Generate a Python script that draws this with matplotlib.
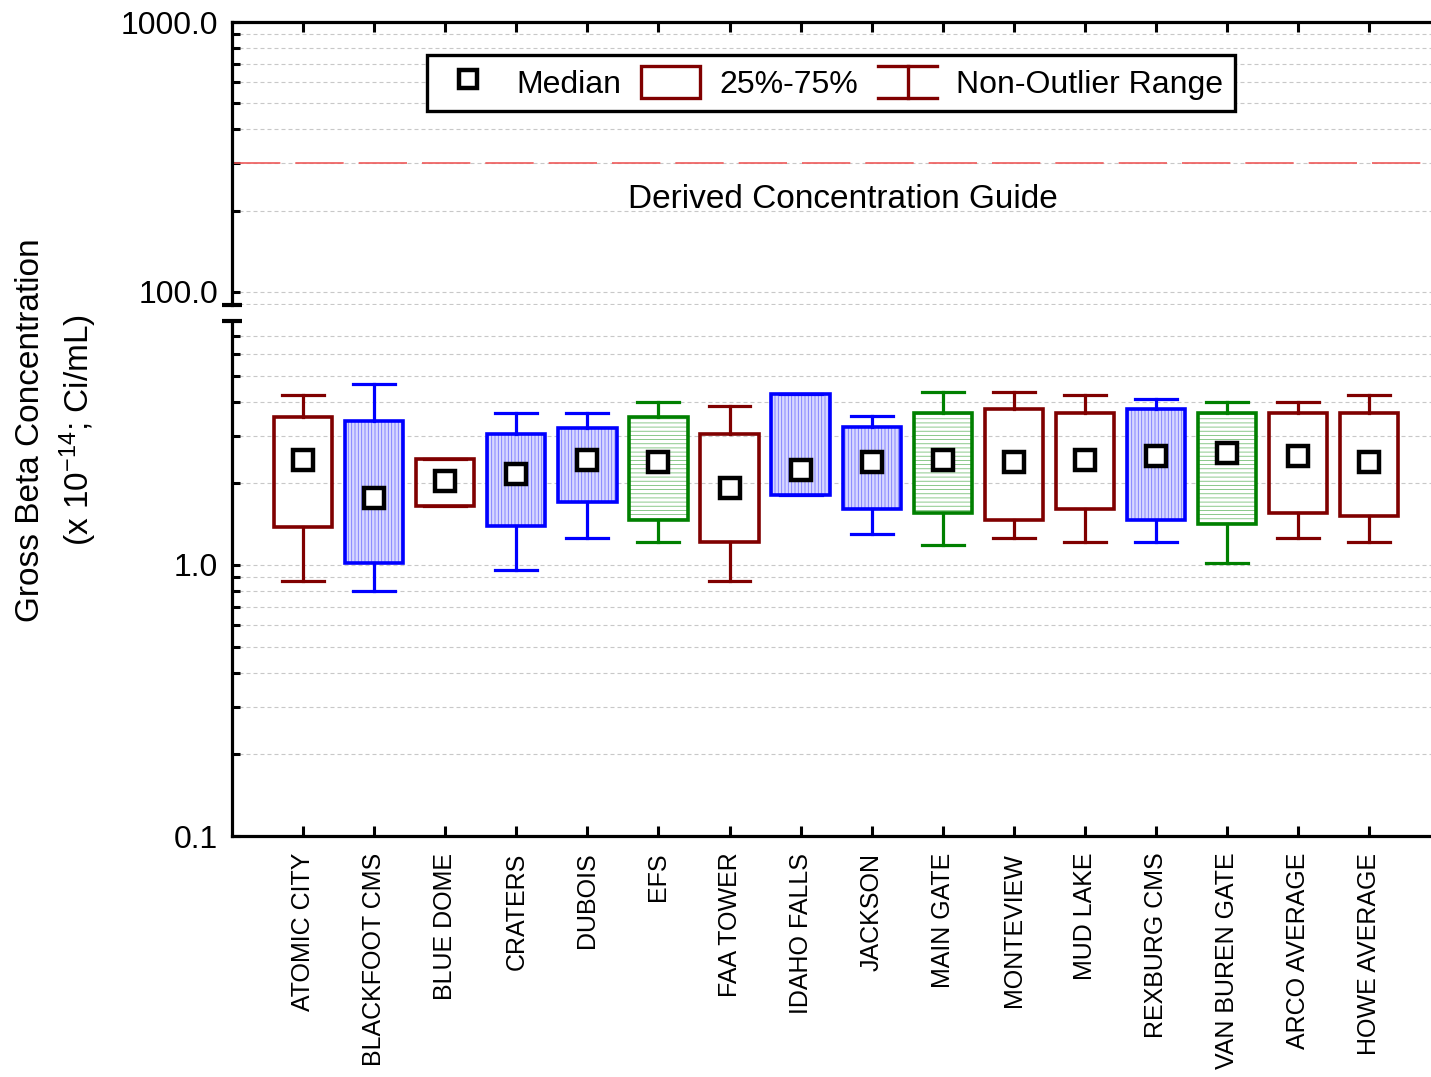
import matplotlib.pyplot as plt
import matplotlib.ticker as ticker
from matplotlib.lines import Line2D
from matplotlib.patches import Patch, Rectangle
from matplotlib.legend_handler import HandlerBase

plt.rcParams["font.family"] = ["Liberation Sans", "DejaVu Sans"]
plt.rcParams["mathtext.fontset"] = "custom"
plt.rcParams["mathtext.rm"] = "Liberation Sans"
plt.rcParams["mathtext.it"] = "Liberation Sans:italic"
plt.rcParams["hatch.linewidth"] = 0.6

stations = [
    "ATOMIC CITY", "BLACKFOOT CMS", "BLUE DOME", "CRATERS", "DUBOIS", "EFS",
    "FAA TOWER", "IDAHO FALLS", "JACKSON", "MAIN GATE", "MONTEVIEW",
    "MUD LAKE", "REXBURG CMS", "VAN BUREN GATE", "ARCO AVERAGE", "HOWE AVERAGE",
]
whisker_low = [0.875, 0.80, 1.65, 0.958, 1.26, 1.22, 0.875, 1.81,
               1.30, 1.19, 1.26, 1.22, 1.22, 1.02, 1.26, 1.22]
q1 = [1.38, 1.02, 1.65, 1.39, 1.71, 1.47, 1.22, 1.81,
      1.61, 1.55, 1.47, 1.61, 1.47, 1.42, 1.55, 1.51]
medians = [2.45, 1.76, 2.05, 2.17, 2.45, 2.39, 1.93, 2.25,
           2.39, 2.45, 2.39, 2.45, 2.52, 2.60, 2.52, 2.39]
q3 = [3.53, 3.41, 2.46, 3.04, 3.21, 3.53, 3.04, 4.27,
      3.22, 3.65, 3.75, 3.65, 3.75, 3.65, 3.65, 3.65]
whisker_high = [4.24, 4.64, 2.46, 3.65, 3.65, 3.98, 3.87, 4.27,
                3.54, 4.36, 4.36, 4.24, 4.11, 3.98, 3.98, 4.24]
box_type = ["plain", "blue", "plain", "blue", "blue", "green", "plain", "blue",
            "blue", "green", "plain", "plain", "blue", "green", "plain", "plain"]
dcg = 300

edge_colors = {"plain": "#800000", "blue": "#0000ff", "green": "#008000"}
RED = "#800000"


class WhiskerHandler(HandlerBase):

    def create_artists(self, legend, orig_handle, xdescent, ydescent,
                       width, height, fontsize, trans):
        x0 = -xdescent
        x1 = -xdescent + width
        y0 = -ydescent
        y1 = -ydescent + height
        xm = (x0 + x1) / 2
        lines = [
            Line2D([x0, x1], [y0, y0]),
            Line2D([x0, x1], [y1, y1]),
            Line2D([xm, xm], [y0, y1]),
        ]
        for ln in lines:
            ln.set_color(orig_handle.get_color())
            ln.set_linewidth(2.4)
            ln.set_transform(trans)
        return lines


fig = plt.figure(figsize=(14.31, 10.77), dpi=100)

left = 232 / 1431
width = 1 - left
ax_top = fig.add_axes([left, 1 - 305 / 1077, width, (305 - 22) / 1077])
ax = fig.add_axes([left, 1 - 836 / 1077, width, (836 - 321) / 1077])

positions = list(range(1, len(stations) + 1))

stats = []
for i in range(len(stations)):
    stats.append({
        "med": medians[i],
        "q1": q1[i],
        "q3": q3[i],
        "whislo": whisker_low[i],
        "whishi": whisker_high[i],
        "fliers": [],
    })

box_w = 0.82

# hatched fills under the boxes
for i, kind in enumerate(box_type):
    if kind == "blue":
        ax.add_patch(Rectangle(
            (positions[i] - box_w / 2, q1[i]), box_w, q3[i] - q1[i],
            facecolor="#d8d8ff", edgecolor="#7878ff", linewidth=0,
            hatch="|||||", zorder=1.5
        ))
    elif kind == "green":
        ax.add_patch(Rectangle(
            (positions[i] - box_w / 2, q1[i]), box_w, q3[i] - q1[i],
            facecolor="white", edgecolor="#78c078", linewidth=0,
            hatch="----", zorder=1.5
        ))

bp = ax.bxp(
    stats,
    positions=positions,
    widths=box_w,
    capwidths=0.59,
    patch_artist=True,
    showfliers=False,
    manage_ticks=False,
    boxprops=dict(facecolor="none", linewidth=2.6),
    whiskerprops=dict(linewidth=2.3),
    capprops=dict(linewidth=2.3),
)

for i, kind in enumerate(box_type):
    c = edge_colors[kind]
    bp["boxes"][i].set_edgecolor(c)
    bp["boxes"][i].set_zorder(2)
    for art in bp["whiskers"][2 * i:2 * i + 2] + bp["caps"][2 * i:2 * i + 2]:
        art.set_color(c)
    bp["medians"][i].set_visible(False)

ax.plot(
    positions, medians, "s",
    markerfacecolor="white", markeredgecolor="black",
    markersize=14, markeredgewidth=3.2, zorder=5
)

# axes setup
for a in (ax, ax_top):
    a.set_yscale("log")
    a.set_xlim(0, 16.87)
    a.set_xticks(positions)
    a.set_axisbelow(True)
    a.spines["right"].set_visible(False)
    a.spines["left"].set_linewidth(2.3)
    a.yaxis.set_minor_locator(
        ticker.LogLocator(base=10, subs=[2, 3, 4, 5, 6, 7, 8, 9], numticks=20)
    )
    a.yaxis.set_minor_formatter(ticker.NullFormatter())
    a.yaxis.set_major_formatter(ticker.FuncFormatter(lambda v, p: f"{v:.1f}"))
    a.grid(True, which="both", axis="y", color="#c8c8c8",
           linewidth=0.8, linestyle=(0, (3.6, 2.7)))
    a.tick_params(axis="y", which="both", direction="in", length=6,
                  width=2.2, labelsize=23, pad=10)

ax.set_ylim(0.1, 7.95)
ax.yaxis.set_major_locator(ticker.FixedLocator([0.1, 1.0]))
ax.spines["top"].set_visible(False)
ax.spines["bottom"].set_linewidth(2.3)
ax.set_xticklabels(stations, rotation=90)
ax.tick_params(axis="x", direction="in", length=7, width=2.2,
               labelsize=18, pad=12)

ax_top.set_ylim(89.5, 1000)
ax_top.yaxis.set_major_locator(ticker.FixedLocator([100, 1000]))
ax_top.spines["bottom"].set_visible(False)
ax_top.spines["top"].set_linewidth(2.3)
ax_top.tick_params(axis="x", top=True, bottom=False, labeltop=False,
                   labelbottom=False, direction="in", length=7, width=2.2)

# axis break marks
ax_top.plot([-0.008, 0.008], [0, 0], transform=ax_top.transAxes,
            color="black", linewidth=3, clip_on=False, solid_capstyle="butt")
ax.plot([-0.008, 0.008], [1, 1], transform=ax.transAxes,
        color="black", linewidth=3, clip_on=False, solid_capstyle="butt")

# derived concentration guide
ax_top.axhline(dcg, color="#ee5a5a", linewidth=1.2, linestyle=(0, (29, 9)))
ax_top.text(8.6, 221, "Derived Concentration Guide",
            ha="center", va="center", fontsize=24)

# legend
median_handle = Line2D([], [], marker="s", linestyle="none",
                       markerfacecolor="white", markeredgecolor="black",
                       markersize=13, markeredgewidth=3.2)
box_handle = Patch(facecolor="white", edgecolor=RED, linewidth=2.4)
whisker_handle = Line2D([], [], color=RED)

leg = ax_top.legend(
    handles=[median_handle, box_handle, whisker_handle],
    labels=["Median", "25%-75%", "Non-Outlier Range"],
    handler_map={whisker_handle: WhiskerHandler()},
    loc="center",
    bbox_to_anchor=(0.4995, 0.785),
    ncol=3,
    fontsize=23,
    fancybox=False,
    framealpha=1,
    edgecolor="black",
    handlelength=1.85,
    handleheight=1.15,
    handletextpad=0.6,
    columnspacing=0.62,
    borderpad=0.35,
)
leg.get_frame().set_linewidth(2.4)

fig.text(
    57 / 1431, 1 - 430 / 1077,
    "Gross Beta Concentration\n(x 10$^{-14}$; Ci/mL)",
    rotation=90, ha="center", va="center", fontsize=24,
    multialignment="center", linespacing=1.35
)

fig.savefig("out.png", dpi=100)
plt.close()
